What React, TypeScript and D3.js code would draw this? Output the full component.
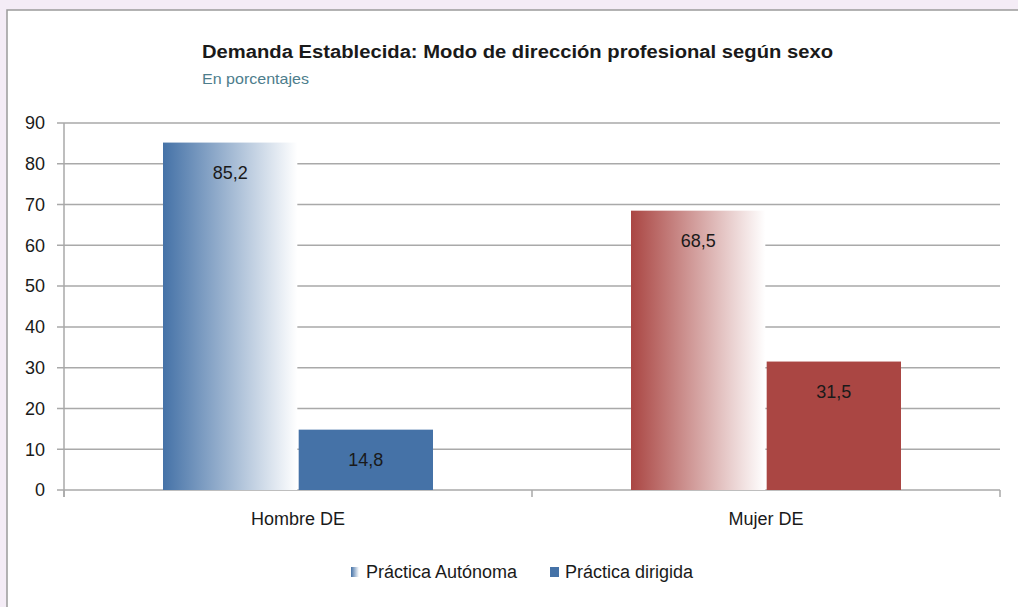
import React from 'react';
import * as d3 from 'd3';

const categories = ['Hombre DE', 'Mujer DE'];
const seriesNames = ['Práctica Autónoma', 'Práctica dirigida'];
const autonoma = [85.2, 68.5];
const dirigida = [14.8, 31.5];
const yTicks = [0, 10, 20, 30, 40, 50, 60, 70, 80, 90];

const W = 1018;
const H = 607;
const margin = { top: 123, right: 18, bottom: 117, left: 64 };
const FONT = '"Liberation Sans", Arial, sans-serif';
const BASE = ['#4572a7', '#aa4643'];

const fmt = (v: number) => v.toFixed(1).replace('.', ',');

export default function App() {
  const innerW = W - margin.left - margin.right;
  const innerH = H - margin.top - margin.bottom;

  const x0 = d3.scaleBand().domain(categories).range([0, innerW]).paddingInner(0).paddingOuter(0);
  const x1 = d3
    .scaleBand()
    .domain(seriesNames)
    .range([99, x0.bandwidth() - 99])
    .paddingInner(0.01);
  const y = d3.scaleLinear().domain([0, 90]).range([innerH, 0]);

  const rows = categories.map((c, i) => ({
    cat: c,
    idx: i,
    vals: [autonoma[i], dirigida[i]],
  }));

  return (
    <svg
      width={W}
      height={H}
      style={{ position: 'absolute', left: 0, top: 0, fontFamily: FONT }}
    >
      <defs>
        {BASE.map((col, i) => (
          <linearGradient key={i} id={`grad${i}`} x1="0" x2="1" y1="0" y2="0">
            <stop offset="0%" stopColor={col} />
            <stop offset="100%" stopColor="#ffffff" />
          </linearGradient>
        ))}
        <linearGradient id="legGrad" x1="0" x2="1" y1="0" y2="0">
          <stop offset="0%" stopColor={BASE[0]} />
          <stop offset="100%" stopColor="#ffffff" />
        </linearGradient>
      </defs>

      {/* page background + chart frame */}
      <rect width={W} height={H} fill="#f4ecf6" />
      <rect x={7} y={10} width={W} height={H} fill="#ffffff" stroke="#9a9a9a" strokeWidth={1.5} />

      <text x={202} y={58} fontSize={18} fontWeight="bold" fill="#1a1a1a" textLength={631} lengthAdjust="spacingAndGlyphs">
        Demanda Establecida: Modo de dirección profesional según sexo
      </text>
      <text x={202} y={84} fontSize={15} fill="#4d7d8c" textLength={107} lengthAdjust="spacingAndGlyphs">
        En porcentajes
      </text>

      <g transform={`translate(${margin.left},${margin.top})`}>
        {/* gridlines + y ticks */}
        {yTicks.map((t) => (
          <g key={t} transform={`translate(0,${y(t)})`}>
            <line x1={-7} x2={innerW} stroke="#a9a9a9" strokeWidth={1.5} />
            <text x={-19} dy="0.35em" textAnchor="end" fontSize={18} fill="#1a1a1a">
              {t}
            </text>
          </g>
        ))}
        <line x1={0} x2={0} y1={0} y2={innerH + 7} stroke="#a9a9a9" strokeWidth={1.5} />
        {[0, 1, 2].map((k) => (
          <line
            key={k}
            x1={k * x0.bandwidth()}
            x2={k * x0.bandwidth()}
            y1={innerH}
            y2={innerH + 7}
            stroke="#a9a9a9"
            strokeWidth={1.5}
          />
        ))}

        {rows.map((r) => (
          <g key={r.cat} transform={`translate(${x0(r.cat)},0)`}>
            {r.vals.map((v, j) => {
              const bx = x1(seriesNames[j]) || 0;
              const bw = x1.bandwidth();
              return (
                <g key={j}>
                  <rect
                    x={bx}
                    y={y(v)}
                    width={bw}
                    height={innerH - y(v)}
                    fill={j === 0 ? `url(#grad${r.idx})` : BASE[r.idx]}
                  />
                  <text
                    x={bx + bw / 2}
                    y={y(v) + 30}
                    dy="0.35em"
                    textAnchor="middle"
                    fontSize={18}
                    fill="#1a1a1a"
                  >
                    {fmt(v)}
                  </text>
                </g>
              );
            })}
            <text x={x0.bandwidth() / 2} y={innerH + 29} dy="0.35em" textAnchor="middle" fontSize={18} fill="#1a1a1a">
              {r.cat}
            </text>
          </g>
        ))}
      </g>

      {/* legend */}
      <g transform="translate(351,567)">
        <rect x={0} y={0} width={8} height={10} fill="url(#legGrad)" />
        <text x={15} y={5} dy="0.35em" fontSize={18} fill="#1a1a1a">
          {seriesNames[0]}
        </text>
        <rect x={199} y={0} width={9} height={10} fill={BASE[0]} />
        <text x={214} y={5} dy="0.35em" fontSize={18} fill="#1a1a1a">
          {seriesNames[1]}
        </text>
      </g>
    </svg>
  );
}
